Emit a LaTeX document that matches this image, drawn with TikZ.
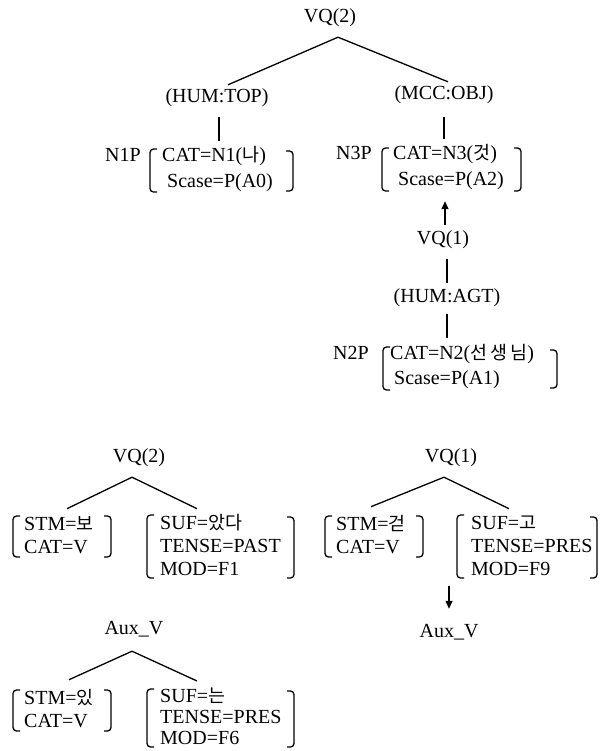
\documentclass[tikz,border=0pt]{standalone}
\usepackage{fontspec}
\setmainfont{Liberation Serif}
\newfontfamily\krfont{Noto Sans CJK KR}[Scale=0.92]
\newcommand{\kr}[1]{{\krfont #1}}
\usetikzlibrary{arrows.meta,calc}
\newcommand{\LBr}[3]{\draw[brk] (#1+7,#2) -- (#1,#2) -- (#1,#3) -- (#1+7,#3);}
\newcommand{\RBr}[3]{\draw[brk] (#1-7,#2) -- (#1,#2) -- (#1,#3) -- (#1-7,#3);}
\begin{document}
\begin{tikzpicture}[x=1pt,y=-1pt,
  every node/.style={font=\fontsize{20}{23}\selectfont},
  lbl/.style={inner sep=1pt, text height=14pt, text depth=4.5pt, anchor=base},
  fs/.style={inner sep=0pt, anchor=base west},
  conn/.style={line width=1.3pt},
  brk/.style={line width=1.3pt, rounded corners=3.5pt},
  arr/.style={line width=1.3pt, -{Triangle[length=8pt,width=7pt]}}
]
\useasboundingbox (0,0) rectangle (600,751);

% ---------- upper graph ----------
\node[lbl] (vqtop) at (330,23) {VQ(2)};
\node[lbl] (hum) at (217,103) {(HUM:TOP)};
\node[lbl] (mcc) at (444,100) {(MCC:OBJ)};

\node[fs] (n1p) at (105,162) {N1P};
\node[fs] (n1box) at (162,162) {\def\arraystretch{1.087}\begin{tabular}[t]{@{}l@{}}CAT=N1(\kr{나})\\\hspace{5pt}Scase=P(A0)\end{tabular}};
\LBr{150}{149}{192}
\RBr{293}{151}{191}

\node[fs] (n3p) at (336,160) {N3P};
\node[fs] (n3box) at (393,160) {\def\arraystretch{1.087}\begin{tabular}[t]{@{}l@{}}CAT=N3(\kr{것})\\\hspace{5pt}Scase=P(A2)\end{tabular}};
\LBr{382}{148}{191}
\RBr{521}{148}{191}

\node[lbl] (vq1m) at (443,244) {VQ(1)};
\node[lbl] (agt) at (447,302) {(HUM:AGT)};

\node[fs] (n2p) at (333,359) {N2P};
\node[fs] (n2box) at (390,359) {\def\arraystretch{1.13}\begin{tabular}[t]{@{}l@{}}CAT=N2(\kr{선\,생\,님})\\\hspace{4pt}Scase=P(A1)\end{tabular}};
\LBr{383}{347}{390}
\RBr{557}{350}{388}

\coordinate (apex1) at ($(vqtop.south)+(8,8.5)$);
\draw[conn] (apex1) -- ($(hum.north)+(11,-3)$);
\draw[conn] (apex1) -- ($(mcc.north)+(4,-3)$);
\draw[conn] ($(hum.south)+(2,8.5)$) -- ($(hum.south |- n1box.north)+(2,-3.5)$);
\draw[conn] ($(mcc.south)+(0,11.5)$) -- ($(mcc.south |- n3box.north)+(0,-3.5)$);
\draw[arr] ($(vq1m.north)+(2,-4)$) -- ($(vq1m.north |- n3box.south)+(2,8.5)$);
\draw[conn] ($(vq1m.south)+(4,9.5)$) -- ($(agt.north)+(0,-4)$);
\draw[conn] ($(agt.south)+(0,6.5)$) -- ($(agt.south |- n2box.north)+(0,-3)$);

% ---------- VQ(2) lower ----------
\node[lbl] (vq2b) at (139,462) {VQ(2)};
\node[fs] (stm2) at (24,530) {\begin{tabular}[t]{@{}l@{}}STM=\kr{보}\\CAT=V\end{tabular}};
\LBr{13}{516}{557}
\RBr{111}{516}{557}
\node[fs] (suf2) at (160,529) {\begin{tabular}[t]{@{}l@{}}SUF=\kr{았다}\\TENSE=PAST\\MOD=F1\end{tabular}};
\LBr{147}{515}{578}
\RBr{294}{517}{578}
\coordinate (apex2) at ($(vq2b.south)+(-7,9.5)$);
\draw[conn] (apex2) -- ($(stm2.north west)+(43,-5)$);
\draw[conn] (apex2) -- ($(suf2.north west)+(37,-4)$);

% ---------- VQ(1) lower ----------
\node[lbl] (vq1b) at (451,462) {VQ(1)};
\node[fs] (stm1) at (336,530) {\begin{tabular}[t]{@{}l@{}}STM=\kr{걷}\\CAT=V\end{tabular}};
\LBr{325}{516}{557}
\RBr{423}{516}{557}
\node[fs] (suf1) at (471,529) {\begin{tabular}[t]{@{}l@{}}SUF=\kr{고}\\TENSE=PRES\\MOD=F9\end{tabular}};
\LBr{457}{515}{578}
\RBr{597}{517}{578}
\coordinate (apex3) at ($(vq1b.south)+(-7,9.5)$);
\draw[conn] (apex3) -- ($(stm1.north west)+(35,-7)$);
\draw[conn] (apex3) -- ($(suf1.north west)+(38,-4)$);

\node[lbl] (auxr) at (449,637) {Aux\_V};
\draw[arr] ($(auxr.north |- suf1.south)+(0,4)$) -- ($(auxr.north)+(0,-13)$);

% ---------- Aux_V lower ----------
\node[lbl] (auxl) at (134,634) {Aux\_V};
\node[fs] (stm3) at (24,704) {\begin{tabular}[t]{@{}l@{}}STM=\kr{있}\\CAT=V\end{tabular}};
\LBr{13}{690}{731}
\RBr{111}{690}{731}
\node[fs] (suf3) at (160,702) {\def\arraystretch{0.92}\begin{tabular}[t]{@{}l@{}}SUF=\kr{는}\\TENSE=PRES\\MOD=F6\end{tabular}};
\LBr{147}{689}{747}
\RBr{294}{691}{747}
\coordinate (apex4) at ($(auxl.south)+(-2,11.5)$);
\draw[conn] (apex4) -- ($(stm3.north west)+(45,-8)$);
\draw[conn] (apex4) -- ($(suf3.north west)+(37,-6)$);
\end{tikzpicture}
\end{document}
